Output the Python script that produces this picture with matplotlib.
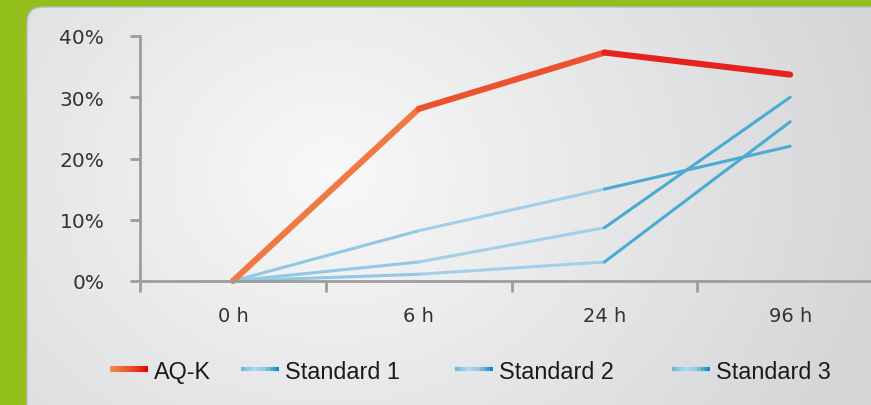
import numpy as np
import matplotlib
matplotlib.use("Agg")
import matplotlib.pyplot as plt
from matplotlib.collections import LineCollection
from matplotlib.colors import LinearSegmentedColormap
from matplotlib.patches import FancyBboxPatch

# data
categories = ["0 h", "6 h", "24 h", "96 h"]
aqk = [0.0, 28.1, 37.3, 33.7]
standard_1 = [0.0, 8.2, 15.0, 22.0]
standard_2 = [0.0, 3.1, 8.7, 30.0]
standard_3 = [0.0, 1.1, 3.1, 26.0]
series_names = ["AQ-K", "Standard 1", "Standard 2", "Standard 3"]
y_ticks = [0, 10, 20, 30, 40]

W, H = 871, 406
green = "#93bf1c"
axis_grey = "#9d9d9d"

red_cmap = LinearSegmentedColormap.from_list(
    "aqk", ["#f28a4e", "#ee6535", "#e8402a", "#e30613"])
blue_cmap = LinearSegmentedColormap.from_list(
    "std", ["#6fb9dc", "#b4daec", "#8ec7e2", "#0a8fc4"])

fig = plt.figure(figsize=(W / 100, H / 100), dpi=100, facecolor=green)

# background panel with a soft radial gradient
bg = fig.add_axes([0, 0, 1, 1], zorder=0)
bg.set_xlim(0, W)
bg.set_ylim(H, 0)
bg.axis("off")
yy, xx = np.mgrid[0:H, 0:W]
dist = np.hypot(xx - 330, (yy - 175) * 1.2) / 560.0
dist = np.clip(dist, 0, 1)
light = np.array([0.975, 0.975, 0.975])
dark = np.array([0.835, 0.839, 0.847])
img = light[None, None, :] * (1 - dist[..., None]) + dark[None, None, :] * dist[..., None]
panel = FancyBboxPatch((27, 8), 900, 420, boxstyle="round,pad=0,rounding_size=16",
                       facecolor="none", edgecolor="#b9bbbd", linewidth=1.0)
bg.add_patch(panel)
im = bg.imshow(img, extent=(0, W, H, 0), interpolation="bilinear")
im.set_clip_path(panel)

# chart axes
ax = fig.add_axes([140 / W, (H - 282) / H, (W - 140) / W, 245 / H], zorder=2)
ax.patch.set_visible(False)
x = np.arange(len(categories))


def gradient_line(ax, xs, ys, cmap, lw):
    pts = np.column_stack([xs, ys])
    segs = np.stack([pts[:-1], pts[1:]], axis=1)
    mids = (np.asarray(xs[:-1]) + np.asarray(xs[1:])) / 2 / xs[-1]
    lc = LineCollection(segs, colors=cmap(mids), linewidths=lw,
                        capstyle="round", joinstyle="round", clip_on=False)
    ax.add_collection(lc)


for vals in [standard_3, standard_2, standard_1]:
    gradient_line(ax, x, vals, blue_cmap, 2.2)
gradient_line(ax, x, aqk, red_cmap, 4.4)

for s in ["top", "right"]:
    ax.spines[s].set_visible(False)
for s in ["left", "bottom"]:
    ax.spines[s].set_color(axis_grey)
    ax.spines[s].set_linewidth(2.0)

ax.set_yticks(y_ticks)
ax.set_yticklabels(["%d%%" % v for v in y_ticks])
ax.tick_params(axis="y", length=7.2, width=2.0, color=axis_grey, pad=18.5,
               labelsize=14.5, labelcolor="#333333")
ax.set_xticks(x)
ax.set_xticklabels(categories)
ax.tick_params(axis="x", which="major", length=0, pad=18,
               labelsize=14, labelcolor="#333333")
ax.set_xticks(np.arange(len(categories)) - 0.5, minor=True)
ax.tick_params(axis="x", which="minor", length=8, width=2.0, color=axis_grey)
for t in ax.get_yticklabels() + ax.get_xticklabels():
    t.set_family("DejaVu Sans")
ax.set_xlim(-0.5, 3.435)
ax.set_ylim(0, 40)

# legend drawn by hand so the handles keep the gradient
handle_x = [110, 241, 455, 672]
cmaps = [red_cmap, blue_cmap, blue_cmap, blue_cmap]
widths = [4.4, 3.0, 3.0, 3.0]
leg_y = 370
for name, hx, cmap, lw in zip(series_names, handle_x, cmaps, widths):
    steps = np.linspace(hx, hx + 38, 13)
    segs = [[(a, leg_y), (b, leg_y)] for a, b in zip(steps[:-1], steps[1:])]
    cols = cmap(np.linspace(0, 1, len(segs)))
    bg.add_collection(LineCollection(segs, colors=cols, linewidths=lw, capstyle="butt"))
    bg.text(hx + 44, leg_y, name, ha="left", va="center_baseline", fontsize=16.8,
            color="#1a1a1a", family=["Liberation Sans", "DejaVu Sans"])

fig.savefig("out.png", dpi=100, facecolor=green)
